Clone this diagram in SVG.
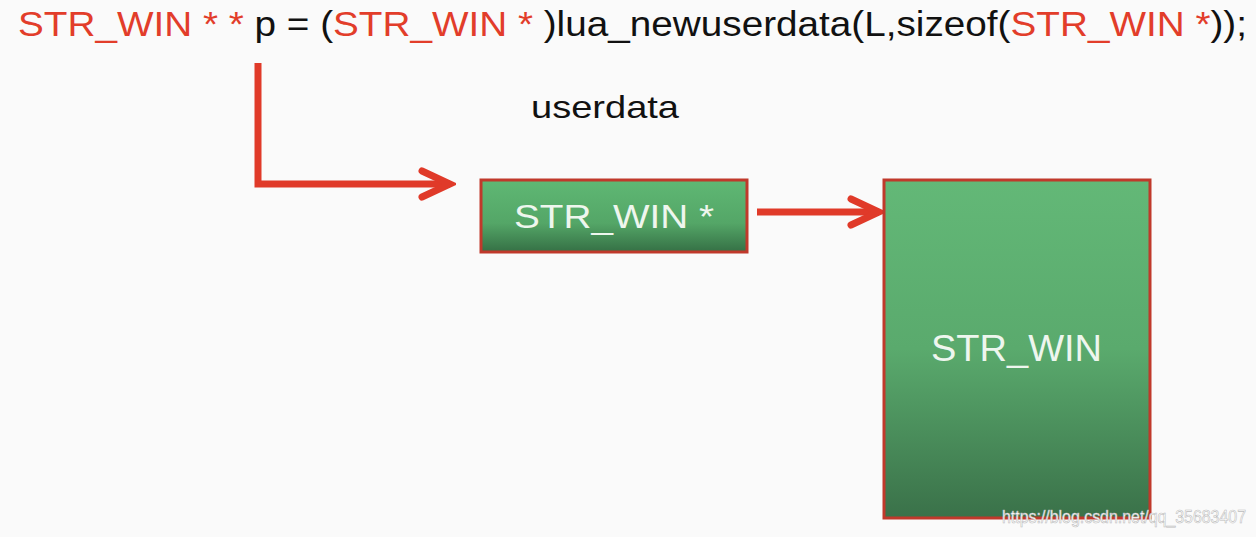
<svg xmlns="http://www.w3.org/2000/svg" width="1256" height="537" viewBox="0 0 1256 537">
<style>
.t{font-family:"Liberation Sans",Arial,sans-serif}
.red{fill:#e23d2a}
.blk{fill:#111}
.conn{fill:none;stroke:#e03a29;stroke-width:7;stroke-linejoin:miter}
.box{stroke:#c0392b;stroke-width:3}
.lbl{fill:#eef6ee;font-family:"Liberation Sans",Arial,sans-serif}
</style>
<defs>
<linearGradient id="g1" x1="0" y1="0" x2="0" y2="1">
<stop offset="0" stop-color="#5fb874"/>
<stop offset="0.6" stop-color="#54a667"/>
<stop offset="1" stop-color="#357045"/>
</linearGradient>
<linearGradient id="g2" x1="0" y1="0" x2="0" y2="1">
<stop offset="0" stop-color="#63b877"/>
<stop offset="0.5" stop-color="#5aaa6d"/>
<stop offset="1" stop-color="#3a7149"/>
</linearGradient>
<marker id="chev" markerUnits="userSpaceOnUse" viewBox="0 0 40 34" refX="34" refY="17" markerWidth="40" markerHeight="34" orient="auto">
<path d="M6 4 L34 17 L6 30" fill="none" stroke="#e03a29" stroke-width="7" stroke-linecap="round" stroke-linejoin="miter"/>
</marker>
</defs>
<rect width="1256" height="537" fill="#fafafa"/>
<text class="t" x="18" y="36" font-size="35" textLength="1229" lengthAdjust="spacingAndGlyphs"><tspan class="red">STR_WIN * * </tspan><tspan class="blk">p = (</tspan><tspan class="red">STR_WIN * </tspan><tspan class="blk">)lua_newuserdata(L,sizeof(</tspan><tspan class="red">STR_WIN *</tspan><tspan class="blk">));</tspan></text>
<text class="t blk" x="531" y="118" font-size="32" textLength="148" lengthAdjust="spacingAndGlyphs">userdata</text>
<g id="connectors">
<path class="conn" d="M258 63 V184 H450" marker-end="url(#chev)"/>
<path class="conn" d="M757 212 H879" marker-end="url(#chev)"/>
</g>
<g id="node-ptr">
<rect class="box" x="481" y="180" width="266" height="72" fill="url(#g1)"/>
<text class="lbl" x="514" y="228" font-size="34" textLength="200" lengthAdjust="spacingAndGlyphs">STR_WIN *</text>
</g>
<g id="node-win">
<rect class="box" x="884" y="180" width="266" height="338" fill="url(#g2)"/>
<text class="lbl" x="931" y="361" font-size="36" textLength="171" lengthAdjust="spacingAndGlyphs">STR_WIN</text>
</g>
<text class="t" x="1002" y="523" font-size="18" fill="#ffffff" stroke="#bbbbbb" stroke-width="0.6" textLength="244" lengthAdjust="spacingAndGlyphs">https://blog.csdn.net/qq_35683407</text>
</svg>
